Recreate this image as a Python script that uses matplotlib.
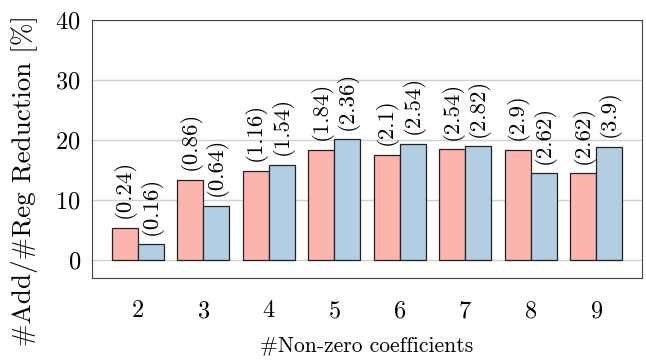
import matplotlib.pyplot as plt
import numpy as np

plt.rcParams['font.family'] = ['cmr10', 'DejaVu Serif']
plt.rcParams['mathtext.fontset'] = 'cm'
plt.rcParams['axes.formatter.use_mathtext'] = True

coeffs = [2, 3, 4, 5, 6, 7, 8, 9]
add_red = [5.3, 13.4, 14.9, 18.3, 17.55, 18.45, 18.3, 14.45]
reg_red = [2.6, 9.0, 15.8, 20.1, 19.3, 18.95, 14.45, 18.8]
add_lbl = ['0.24', '0.86', '1.16', '1.84', '2.1', '2.54', '2.9', '2.62']
reg_lbl = ['0.16', '0.64', '1.54', '2.36', '2.54', '2.82', '2.62', '3.9']

fig = plt.figure(figsize=(6.46, 3.6), dpi=100)
ax = fig.add_axes([92 / 646, 1 - 278 / 360, 550 / 646, 258 / 360])

x = np.array(coeffs)
w = 0.4
ax.bar(x - w / 2, add_red, w, color='#fbb4ae', edgecolor='#222222', linewidth=0.9, zorder=3)
ax.bar(x + w / 2, reg_red, w, color='#b3cde3', edgecolor='#222222', linewidth=0.9, zorder=3)

for xi, v, s in zip(x - w / 2, add_red, add_lbl):
    ax.annotate('(' + s + ')', (xi, v), xytext=(0, 7), textcoords='offset points',
                rotation=90, ha='center', va='bottom', fontsize=16.5)
for xi, v, s in zip(x + w / 2, reg_red, reg_lbl):
    ax.annotate('(' + s + ')', (xi, v), xytext=(0, 7), textcoords='offset points',
                rotation=90, ha='center', va='bottom', fontsize=16.5)

ax.set_xlim(1.3, 9.7)
ax.set_ylim(-3, 40)
ax.set_xticks(coeffs)
ax.set_yticks([0, 10, 20, 30, 40])
ax.tick_params(length=0, labelsize=17.5)
ax.tick_params(axis='x', pad=16)
ax.tick_params(axis='y', pad=8)
ax.grid(axis='y', color='#d0d0d0', linewidth=1, zorder=0)
for sp in ax.spines.values():
    sp.set_color('#444444')
ax.set_xlabel('#Non-zero coefficients', fontsize=15.5, labelpad=10)
fig.text(25 / 646, 0.5, '#Add/#Reg Reduction [%]', fontsize=19.5,
         rotation=90, ha='center', va='center')

fig.savefig('out.png', dpi=100)
